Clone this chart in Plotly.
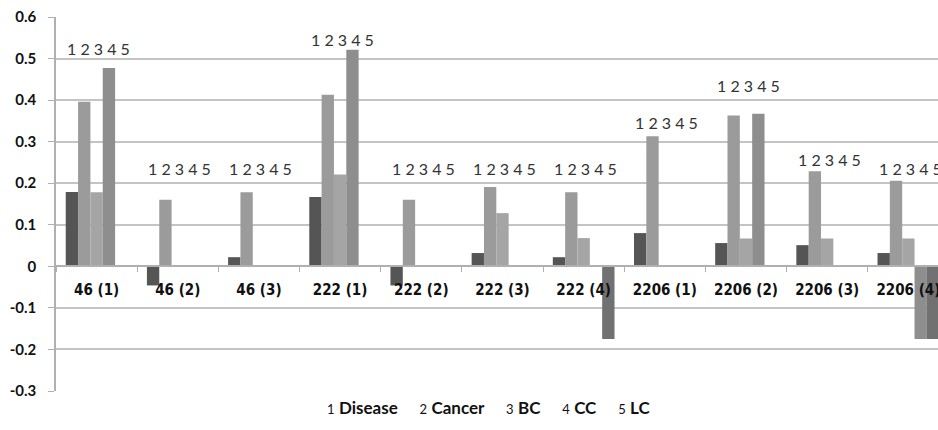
import plotly.graph_objects as go

categories = ["46 (1)", "46 (2)", "46 (3)", "222 (1)", "222 (2)", "222 (3)", "222 (4)",
              "2206 (1)", "2206 (2)", "2206 (3)", "2206 (4)"]
series_names = ["Disease", "Cancer", "BC", "CC", "LC"]
disease = [0.179, -0.046, 0.022, 0.167, -0.046, 0.032, 0.022, 0.080, 0.056, 0.051, 0.032]
cancer = [0.396, 0.160, 0.178, 0.413, 0.160, 0.191, 0.178, 0.313, 0.363, 0.229, 0.206]
bc = [0.178, 0.0, 0.0, 0.221, 0.0, 0.128, 0.068, 0.0, 0.067, 0.067, 0.067]
cc = [0.477, 0.0, 0.0, 0.521, 0.0, 0.0, 0.0, 0.0, 0.367, 0.0, -0.175]
lc = [0.0, 0.0, 0.0, 0.0, 0.0, 0.0, -0.175, 0.0, 0.0, 0.0, -0.175]
label_levels = [0.524, 0.235, 0.235, 0.545, 0.235, 0.235, 0.235, 0.346, 0.435, 0.257, 0.235]
y_tickvals = [0.6, 0.5, 0.4, 0.3, 0.2, 0.1, 0.0, -0.1, -0.2, -0.3]
y_ticktext = ["0.6", "0.5", "0.4", "0.3", "0.2", "0.1", "0", "-0.1", "-0.2", "-0.3"]

colors = ["#555555", "#9b9b9b", "#a5a5a5", "#8e8e8e", "#717171"]
all_values = [disease, cancer, bc, cc, lc]

fig = go.Figure()
for name, vals, col in zip(series_names, all_values, colors):
    fig.add_trace(go.Bar(x=categories, y=vals, name=name, marker_color=col,
                         marker_line_width=0, showlegend=False))

for cat, lvl in zip(categories, label_levels):
    fig.add_annotation(x=cat, y=lvl, text="1 2 3 4 5", showarrow=False,
                       xshift=2, yanchor="middle",
                       font=dict(family="Lato, Open Sans, sans-serif", size=16, color="#333333"))

legend_text = "     ".join(
    f"<span style='font-size:13px;font-weight:normal'>{i + 1}</span> <b>{n}</b>"
    for i, n in enumerate(series_names))
fig.add_annotation(xref="paper", yref="paper", x=0.49, y=-0.045, yanchor="middle",
                   text=legend_text, showarrow=False,
                   font=dict(family="Lato, Open Sans, sans-serif", size=17, color="#111111"))

fig.update_layout(
    width=938, height=430,
    margin=dict(l=56, r=0, t=17, b=39),
    paper_bgcolor="white", plot_bgcolor="white",
    barmode="group", bargap=0.24, bargroupgap=0,
    font=dict(family="Lato, Open Sans, sans-serif", color="#111111"),
    xaxis=dict(
        type="category", range=[-0.5, 10.365],
        anchor="free", position=1 / 3, automargin=False,
        showline=True, linecolor="#b0b0b0", linewidth=1.5,
        ticks="outside", tickson="boundaries", ticklen=5, tickcolor="#b0b0b0",
        showgrid=False,
        tickfont=dict(family="Liberation Sans Narrow, DejaVu Sans Condensed, sans-serif",
                      size=15, color="#111111", weight="bold"),
        ticklabelstandoff=10,
    ),
    yaxis=dict(
        range=[-0.3, 0.6], tickvals=y_tickvals, ticktext=y_ticktext, automargin=False,
        showline=True, linecolor="#b0b0b0", linewidth=1.5,
        ticks="outside", ticklen=6, tickcolor="#b0b0b0",
        showgrid=True, gridcolor="#c4c4c4", gridwidth=1.5,
        zeroline=False,
        tickfont=dict(family="Lato, Open Sans, sans-serif", size=15, color="#111111",
                      weight="bold"),
        ticklabelstandoff=9,
    ),
)

fig.write_html("out.html", config={"displayModeBar": False},
               post_script="document.body.style.margin='0';document.body.style.overflow='hidden';")
